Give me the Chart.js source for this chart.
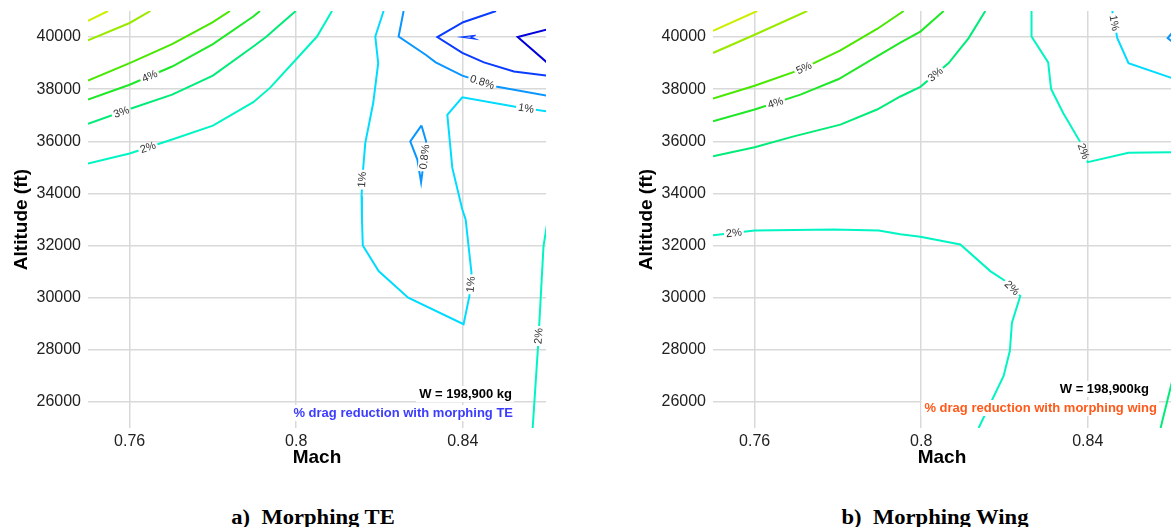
<!DOCTYPE html>
<html><head><meta charset="utf-8">
<script src="https://cdn.jsdelivr.net/npm/chart.js@4.4.1/dist/chart.umd.min.js"></script>
<style>
html,body{margin:0;padding:0;background:#fff;width:1174px;height:527px;overflow:hidden;}
.panel{position:absolute;top:0;height:470px;}
#pa{left:0;width:590px;}
#pb{left:625px;width:549px;}
.cap{position:absolute;top:507px;line-height:20px;font-family:"Liberation Serif","Times New Roman",serif;font-weight:bold;font-size:20px;white-space:nowrap;color:#000;transform:translateX(-50%) scaleX(1.13);}
</style></head><body>
<div class="panel" id="pa"><canvas id="ca"></canvas></div>
<div class="panel" id="pb"><canvas id="cb"></canvas></div>
<div class="cap" style="left:313px">a)&nbsp; Morphing TE</div>
<div class="cap" style="left:935px">b)&nbsp; Morphing Wing</div>
<script>
// ---- axes ----
const machTicks = [0.76, 0.80, 0.84];
const machTickLabels = ['0.76', '0.8', '0.84'];
const altTicks = [26000, 28000, 30000, 32000, 34000, 36000, 38000, 40000];

// ---- panel a) Morphing TE : contour lines [Mach, altitude ft] ----
const te7  = [[0.75,40620],[0.7548,41000]];
const te6  = [[0.75,39870],[0.76,40540],[0.765,41000]];
const te5  = [[0.75,38330],[0.76,39000],[0.7702,39730],[0.78,40570],[0.7841,41000]];
const te4  = [[0.75,37600],[0.76,38170],[0.7702,38870],[0.78,39730],[0.7897,40790],[0.7913,41000]];
const te3  = [[0.75,36670],[0.76,37240],[0.7702,37790],[0.78,38520],[0.7897,39640],[0.7929,40020],[0.7961,40470],[0.7999,41000]];
const te2a = [[0.75,35150],[0.76,35530],[0.7702,36070],[0.78,36600],[0.7897,37500],[0.7937,38050],[0.7999,39130],[0.805,40020],[0.8086,41000]];
const te1  = [[0.821,41000],[0.819,40020],[0.8197,39000],[0.8185,37470],[0.8166,35940],[0.816,34790],[0.8157,33890],[0.8158,33000],[0.816,32000],[0.8198,31020],[0.8269,30000],[0.8402,28980],[0.8416,30060],[0.8421,30960],[0.8407,33000],[0.8399,33380],[0.8375,34980],[0.8363,37020],[0.8399,37690],[0.8523,37340],[0.8602,37150]];
const te08a = [[0.8258,41000],[0.8246,40020],[0.8311,39320],[0.8335,39030],[0.8399,38520],[0.8483,38090],[0.8602,37750]];
const te08b = [[0.8301,36610],[0.8312,36000],[0.8305,35040],[0.83,34430],[0.8291,35300],[0.8274,36000],[0.8301,36610]];
const te06a = [[0.848,41000],[0.8401,40570],[0.8339,40000],[0.8399,39390],[0.8451,39030],[0.8523,38680],[0.8602,38520]];
const te06b = [[0.8431,40070],[0.8396,40000],[0.8431,39920],[0.842,40000],[0.8431,40070]];
const te04 = [[0.8602,40290],[0.8532,40000],[0.8602,39030]];
const te2b = [[0.8602,32770],[0.8594,31980],[0.8581,28150],[0.8568,25000]];
const teLines  = [te7, te6, te5, te4, te3, te2a, te1, te08a, te08b, te06a, te06b, te04, te2b];
const teLevels = [7, 6, 5, 4, 3, 2, 1, 0.8, 0.8, 0.6, 0.6, 0.4, 2];
// [text, line index, Mach, altitude]
const teLabels = [['4%',3,0.7648,38500],['3%',4,0.758,37120],['2%',5,0.7644,35770],['1%',6,0.8158,34530],['1%',6,0.8419,30510],['1%',6,0.8552,37270],['0.8%',7,0.8447,38275],['0.8%',8,0.8308,35400],['2%',12,0.8582,28530]];

// ---- panel b) Morphing Wing ----
const wg7  = [[0.75,40240],[0.7606,41000]];
const wg6  = [[0.75,39390],[0.76,40090],[0.7726,41000]];
const wg5  = [[0.75,37640],[0.76,38130],[0.771,38750],[0.7806,39490],[0.7894,40310],[0.7958,41000]];
const wg4  = [[0.75,36770],[0.76,37220],[0.771,37790],[0.7802,38390],[0.7894,39260],[0.795,39790],[0.7998,40210],[0.8054,41000]];
const wg3  = [[0.75,35430],[0.76,35770],[0.7694,36190],[0.7806,36640],[0.7894,37220],[0.795,37720],[0.7998,38090],[0.8066,39000],[0.8114,39960],[0.8154,41000]];
const wg2a = [[0.8265,41000],[0.8265,40020],[0.8305,39030],[0.8312,38010],[0.8341,37090],[0.8381,36000],[0.84,35200],[0.8498,35560],[0.8602,35580]];
const wg1  = [[0.8459,41000],[0.8471,39960],[0.8498,39000],[0.8602,38430]];
const wg08 = [[0.8602,40150],[0.8592,39960],[0.8602,39830]];
const wg2b = [[0.75,32400],[0.76,32580],[0.779,32620],[0.7898,32580],[0.795,32430],[0.7998,32340],[0.8094,32040],[0.8166,31020],[0.8202,30640],[0.8238,30060],[0.8218,29040],[0.8213,27960],[0.8198,27000],[0.8138,25000]];
const wg3b = [[0.8602,26750],[0.8575,25000]];
const wgLines  = [wg7, wg6, wg5, wg4, wg3, wg2a, wg1, wg08, wg2b, wg3b];
const wgLevels = [7, 6, 5, 4, 3, 2, 1, 0.8, 2, 3];
const wgLabels = [['5%',2,0.7718,38815],['4%',3,0.765,37480],['3%',4,0.8034,38570],['2%',5,0.839,35620],['1%',6,0.8464,40540],['2%',8,0.755,32490],['2%',8,0.8218,30380]];

// ---- styles ----
const levelColor = {0.4:'#0000dc',0.6:'#0a3cff',0.8:'#0a96ff',1:'#00dcff',2:'#00f5c3',3:'#00ec78',4:'#1fe827',5:'#48e800',6:'#9aea00',7:'#cdee00'};
const FONT = '"Liberation Sans", Arial, Helvetica, sans-serif';
Chart.defaults.font.family = FONT;

function labelGeom(chart, lab) {
  const xs = chart.scales.x, ys = chart.scales.y;
  const px = xs.getPixelForValue(lab[2]), py = ys.getPixelForValue(lab[3]);
  const pts = chart.data.datasets[lab[1]].data.map(p => [xs.getPixelForValue(p.x), ys.getPixelForValue(p.y)]);
  let best = 1e9, ang = 0;
  for (let i = 0; i < pts.length - 1; i++) {
    const [x1,y1] = pts[i], [x2,y2] = pts[i+1];
    const dx = x2-x1, dy = y2-y1, L = dx*dx+dy*dy || 1;
    let t = ((px-x1)*dx + (py-y1)*dy)/L; t = Math.max(0, Math.min(1, t));
    const d = Math.hypot(x1+t*dx-px, y1+t*dy-py);
    if (d < best) { best = d; ang = Math.atan2(dy, dx); }
  }
  if (ang > Math.PI/2) ang -= Math.PI;
  if (ang <= -Math.PI/2) ang += Math.PI;
  const ctx = chart.ctx; ctx.save(); ctx.font = '11px ' + FONT;
  const w = ctx.measureText(lab[0]).width; ctx.restore();
  return {px, py, ang, w};
}

const contourPlugin = {
  id: 'contour',
  beforeDatasetsDraw(chart) {
    const ctx = chart.ctx, labs = chart.options.plugins.contour.labels;
    ctx.save();
    ctx.beginPath();
    ctx.rect(0, 0, chart.width, chart.height);
    labs.forEach(l => {
      const g = labelGeom(chart, l);
      const hw = g.w/2 + 2, hh = 5.5, c = Math.cos(g.ang), s = Math.sin(g.ang);
      const corners = [[-hw,-hh],[hw,-hh],[hw,hh],[-hw,hh]].map(([a,b]) => [g.px + a*c - b*s, g.py + a*s + b*c]);
      ctx.moveTo(corners[0][0], corners[0][1]);
      for (let i = 1; i < 4; i++) ctx.lineTo(corners[i][0], corners[i][1]);
      ctx.closePath();
    });
    ctx.clip('evenodd');
  },
  afterDatasetsDraw(chart) {
    const ctx = chart.ctx, o = chart.options.plugins.contour, ca = chart.chartArea;
    ctx.restore();
    o.labels.forEach(l => {
      const g = labelGeom(chart, l);
      ctx.save();
      ctx.translate(g.px, g.py); ctx.rotate(g.ang);
      ctx.font = '11px ' + FONT; ctx.fillStyle = '#333';
      ctx.textAlign = 'center'; ctx.textBaseline = 'middle';
      ctx.fillText(l[0], 0, 0.5);
      ctx.restore();
    });
    o.notes.forEach(n => {
      ctx.save();
      ctx.font = 'bold 13px ' + FONT;
      const w = ctx.measureText(n.text).width;
      const xr = ca.right + n.dx, yc = ca.bottom + n.dy;
      if (n.bg) { ctx.fillStyle = '#fff'; ctx.fillRect(xr - w - 3, yc - 8, w + 5, 16); }
      ctx.fillStyle = n.color; ctx.textAlign = 'right'; ctx.textBaseline = 'middle';
      ctx.fillText(n.text, xr, yc + 0.5);
      ctx.restore();
    });
  }
};

function noPad(s) { s.paddingTop = 0; s.paddingBottom = 0; s.paddingLeft = 0; s.paddingRight = 0; }

function makeChart(id, lines, levels, labels, notes, padRight, thinLines) {
  const datasets = lines.map((pts, i) => ({
    data: pts.map(p => ({x: p[0], y: p[1]})),
    borderColor: levelColor[levels[i]],
    borderWidth: thinLines.includes(pts) ? 1.2 : 2,
    showLine: true, pointRadius: 0, pointHoverRadius: 0, fill: false, tension: 0
  }));
  return new Chart(document.getElementById(id), {
    type: 'scatter',
    data: {datasets},
    options: {
      responsive: true, maintainAspectRatio: false, animation: false,
      layout: {padding: {left: 0, top: 11, right: padRight, bottom: 0}},
      plugins: {legend: {display: false}, tooltip: {enabled: false}, contour: {labels, notes}},
      scales: {
        x: {
          type: 'linear', min: 0.75, max: 0.86,
          afterBuildTicks: s => { s.ticks = machTicks.map(v => ({value: v})); },
          afterFit: s => { s.height = 42; noPad(s); },
          grid: {color: '#d9d9d9', lineWidth: 1.5, drawTicks: false},
          border: {display: false},
          ticks: {font: {size: 16}, color: '#222', padding: 4, maxRotation: 0, callback: (v, i) => machTickLabels[i]},
          title: {display: true, text: 'Mach', color: '#000', font: {size: 19, weight: 'bold'}, padding: {top: 0, bottom: 1}}
        },
        y: {
          type: 'linear', min: 25000, max: 41000,
          afterBuildTicks: s => { s.ticks = altTicks.map(v => ({value: v})); },
          afterFit: s => { s.width = 88; noPad(s); },
          grid: {color: '#d9d9d9', lineWidth: 1.5, drawTicks: false},
          border: {display: false},
          ticks: {font: {size: 16}, color: '#222', padding: 7, callback: v => String(v)},
          title: {display: true, text: 'Altitude (ft)', color: '#000', font: {size: 19, weight: 'bold'}, padding: {top: 10, bottom: 0}}
        }
      }
    },
    plugins: [contourPlugin]
  });
}

makeChart('ca', teLines, teLevels, teLabels, [
  {text: 'W = 198,900 kg', color: '#000', dx: -34, dy: -34, bg: true},
  {text: '% drag reduction with morphing TE', color: '#3c3cff', dx: -33, dy: -15, bg: true}
], 44, [te06b]);
makeChart('cb', wgLines, wgLevels, wgLabels, [
  {text: 'W = 198,900kg', color: '#000', dx: -22, dy: -39, bg: true},
  {text: '% drag reduction with morphing wing', color: '#ff5a1a', dx: -14, dy: -20, bg: true}
], 3, []);
</script>
</body></html>
